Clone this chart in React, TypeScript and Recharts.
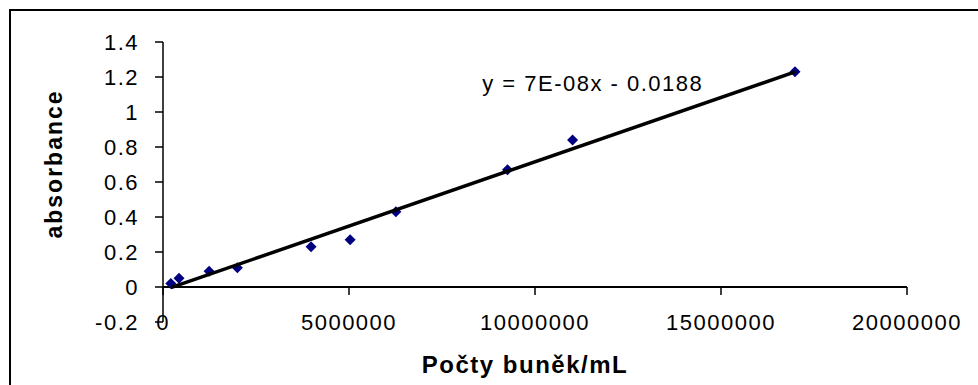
import {
  ReferenceDot,
  ReferenceLine,
  Scatter,
  ScatterChart,
  XAxis,
  YAxis,
} from "recharts";

// measured points: cell count / mL vs absorbance
const cellCounts = [
  210000, 430000, 1240000, 2000000, 3980000, 5030000, 6260000, 9260000,
  11010000, 16990000,
];
const absorbance = [0.02, 0.05, 0.09, 0.11, 0.23, 0.27, 0.43, 0.67, 0.84, 1.23];

// linear trendline ends
const trendX = [210000, 16990000];
const trendY = [-0.004, 1.229];

const xTicks = [0, 5000000, 10000000, 15000000, 20000000];
const yTicks = [-0.2, 0, 0.2, 0.4, 0.6, 0.8, 1, 1.2, 1.4];

const equationText = "y = 7E-08x - 0.0188";
const xTitle = "Počty buněk/mL";
const yTitle = "absorbance";

const points = cellCounts.map((x, i) => ({ x, y: absorbance[i] }));
const trend = trendX.map((x, i) => ({ x, y: trendY[i] }));

const font = '"Liberation Sans", Arial, sans-serif';
const tickStyle = {
  fontSize: 22,
  fill: "#000",
  fontFamily: font,
  letterSpacing: 1.5,
};

// x labels sit at the bottom of the plot (Excel "low" position)
const XTick = ({ x, y, payload }: { x?: number; y?: number; payload?: { value: number } }) => (
  <text
    x={x}
    y={y}
    textAnchor="middle"
    dominantBaseline="central"
    style={tickStyle}
  >
    {payload?.value}
  </text>
);

// Excel-style square diamond marker
const Diamond = ({ cx, cy }: { cx?: number; cy?: number }) => {
  if (cx == null || cy == null) return <g />;
  const s = 5.5;
  return (
    <polygon
      points={`${cx},${cy - s} ${cx + s},${cy} ${cx},${cy + s} ${cx - s},${cy}`}
      fill="#000080"
    />
  );
};

export default function App() {
  return (
    <div
      style={{
        position: "absolute",
        left: 0,
        top: 0,
        width: 978,
        height: 385,
        overflow: "hidden",
        background: "#fff",
      }}
    >
      <div
        style={{
          position: "absolute",
          left: 9,
          top: 9,
          width: 1000,
          height: 400,
          borderTop: "2px solid #000",
          borderLeft: "2px solid #000",
        }}
      />
      <div style={{ position: "absolute", left: 0, top: 0 }}>
        <ScatterChart
          width={978}
          height={385}
          margin={{ top: 42, right: 71, bottom: 0, left: 0 }}
          style={{ fontFamily: font }}
        >
          <XAxis
            type="number"
            dataKey="x"
            domain={[0, 20000000]}
            ticks={xTicks}
            interval={0}
            height={63}
            axisLine={false}
            tickLine={false}
            tickSize={0}
            tickMargin={0}
            tick={<XTick />}
            label={{
              value: xTitle,
              position: "insideBottom",
              offset: 12,
              dx: -10,
              style: {
                fontSize: 24,
                fontWeight: "bold",
                fill: "#000",
                fontFamily: font,
                letterSpacing: 1.5,
              },
            }}
          />
          <YAxis
            type="number"
            dataKey="y"
            domain={[-0.2, 1.4]}
            ticks={yTicks}
            interval={0}
            width={163}
            axisLine={{ stroke: "#000", strokeWidth: 1.5 }}
            tickLine={{ stroke: "#000", strokeWidth: 1.5 }}
            tickSize={8}
            tickMargin={16}
            tick={tickStyle}
            label={{
              value: yTitle,
              angle: -90,
              position: "insideLeft",
              offset: 54,
              dy: -18,
              style: {
                fontSize: 23,
                fontWeight: "bold",
                fill: "#000",
                fontFamily: font,
                letterSpacing: 2,
                textAnchor: "middle",
              },
            }}
          />
          <ReferenceLine y={0} stroke="#000" strokeWidth={2} />
          {xTicks.map((t) => (
            <ReferenceLine
              key={t}
              segment={[
                { x: t, y: 0 },
                { x: t, y: -0.046 },
              ]}
              stroke="#000"
              strokeWidth={1.5}
            />
          ))}
          <Scatter
            data={points}
            fill="#000080"
            shape={<Diamond />}
            legendType="none"
            isAnimationActive={false}
          />
          <Scatter
            data={trend}
            line={{ stroke: "#000", strokeWidth: 3.5 }}
            shape={() => <g />}
            legendType="none"
            isAnimationActive={false}
          />
          <ReferenceDot
            x={8580000}
            y={1.166}
            r={0}
            stroke="none"
            fill="none"
            label={{
              value: equationText,
              position: "right",
              offset: 0,
              style: tickStyle,
            }}
          />
        </ScatterChart>
      </div>
    </div>
  );
}
